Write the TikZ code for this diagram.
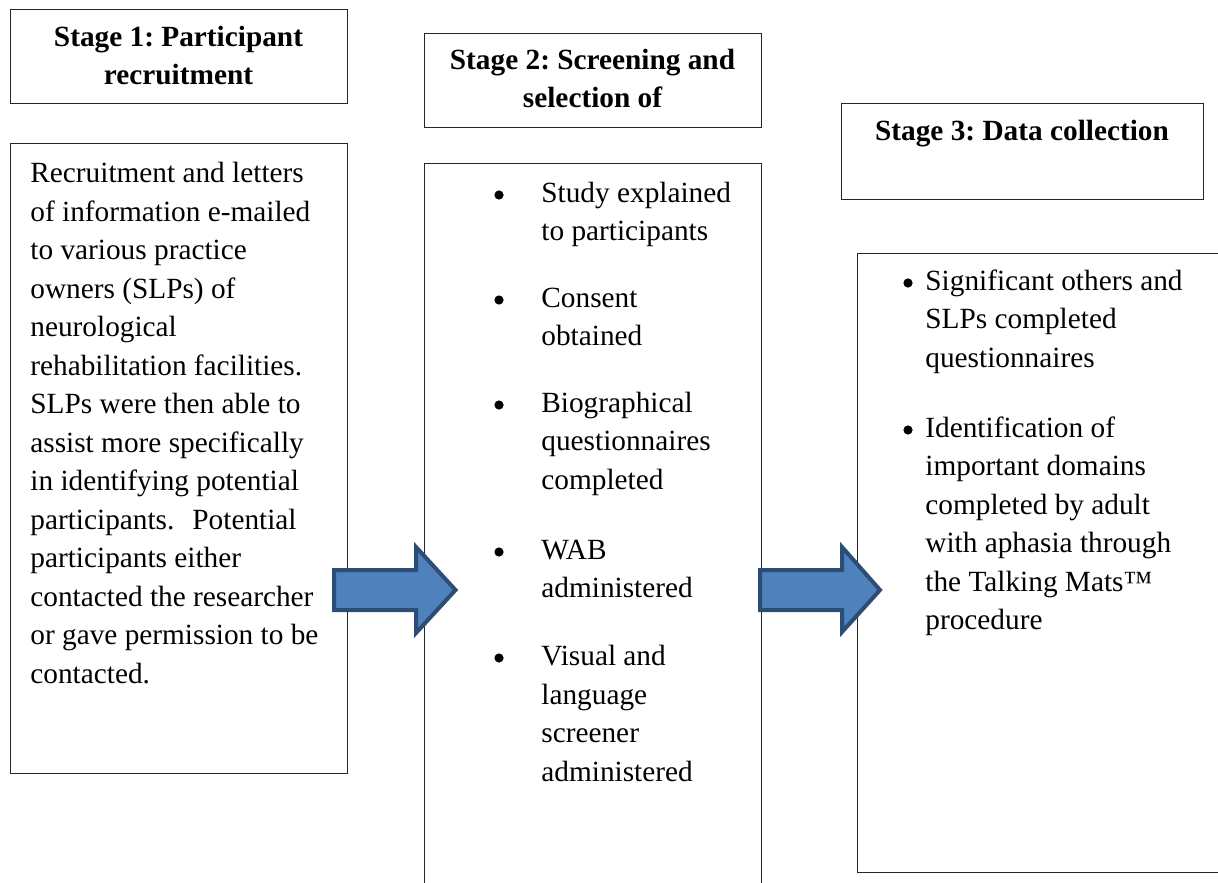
\documentclass[tikz,border=0pt]{standalone}
\usepackage{fontspec}
\setmainfont{Liberation Serif}
\frenchspacing
\definecolor{arrowfill}{HTML}{4F81BD}
\definecolor{arrowline}{HTML}{2C4D75}
\begin{document}
\begin{tikzpicture}[x=0.5pt,y=-0.5pt,
  every node/.style={font=\fontsize{14.65pt}{19.25pt}\selectfont\frenchspacing},
  frame/.style={draw=black!85,line width=0.6pt,inner sep=0pt,anchor=north west},
  head/.style={anchor=base,align=center,inner sep=0pt,font=\fontsize{14.65pt}{19pt}\selectfont\bfseries\frenchspacing},
  para/.style={anchor=base west,align=left,inner sep=0pt},
  bul/.style={circle,fill=black,inner sep=0pt,minimum size=4.6pt},
  blockarrow/.style={draw=arrowline,fill=arrowfill,line width=2pt,line join=miter}]
\useasboundingbox (0,0) rectangle (1218,882);
\clip (0,0) rectangle (1218,882);
\fill[white] (0,0) rectangle (1218,882);

% boxes
\node[frame,minimum width=168.5pt,minimum height=47pt] (hdr1) at (10,9) {};
\node[frame,minimum width=168.5pt,minimum height=315pt] (body1) at (10,143) {};
\node[frame,minimum width=168.5pt,minimum height=47pt] (hdr2) at (424,33) {};
\node[frame,minimum width=168.5pt,minimum height=370pt] (body2) at (424,163) {};
\node[frame,minimum width=181pt,minimum height=48pt] (hdr3) at (841,103) {};
\node[frame,minimum width=200pt,minimum height=309.5pt] (body3) at (857,253) {};

% headings (anchor = baseline of last line)
\node[head] (t1) at (178.5,85) {Stage 1: Participant\\recruitment};
\node[head] (t2) at (592.5,108) {Stage 2: Screening and\\selection of};
\node[head] (t3) at (1022,141) {Stage 3: Data collection};

% stage 1 body
\node[para] (p1) at (30,683) {Recruitment and letters\\
of information e-mailed\\
to various practice\\
owners (SLPs) of\\
neurological\\
rehabilitation facilities.\\
SLPs were then able to\\
assist more specifically\\
in identifying potential\\
participants.\hspace{9pt}Potential\\
participants either\\
contacted the researcher\\
or gave permission to be\\
contacted.};

% stage 2 body
\node[bul] (b21) at (499,195) {};
\node[para] (i21) at (541,240.5) {Study explained\\to participants};
\node[bul] (b22) at (499,300) {};
\node[para] (i22) at (541,345.5) {Consent\\obtained};
\node[bul] (b23) at (499,405) {};
\node[para] (i23) at (541,489) {Biographical\\questionnaires\\completed};
\node[bul] (b24) at (499,552) {};
\node[para] (i24) at (541,597.5) {WAB\\administered};
\node[bul] (b25) at (499,658) {};
\node[para] (i25) at (541,781) {Visual and\\language\\screener\\administered};

% stage 3 body
\node[bul] (b31) at (908,283) {};
\node[para] (i31) at (925,367) {Significant others and\\SLPs completed\\questionnaires};
\node[bul] (b32) at (908,430) {};
\node[para] (i32) at (925,629.5) {Identification of\\important domains\\completed by adult\\with aphasia through\\the Talking Mats™\\procedure};

% block arrows
\draw[blockarrow] (334,570) -- (416,570) -- (416,547) -- (455.5,590) -- (416,633) -- (416,610) -- (334,610) -- cycle;
\draw[blockarrow] (760,570) -- (842,570) -- (842,547) -- (880,590) -- (842,632) -- (842,610) -- (760,610) -- cycle;
\end{tikzpicture}
\end{document}
